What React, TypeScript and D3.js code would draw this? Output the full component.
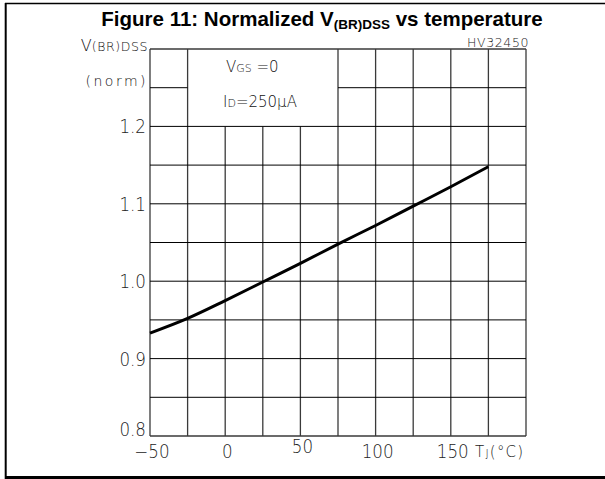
import React from "react";
import * as d3 from "d3";

const temps = [-50, -25, 0, 25, 50, 75, 100, 125, 150, 175];
const vbr = [0.933, 0.952, 0.975, 0.999, 1.023, 1.048, 1.072, 1.097, 1.122, 1.148];
const xTickVals = [-50, 0, 50, 100, 150];
const xTickLabels = ["−50", "0", "50", "100", "150"];
const yTickVals = [0.8, 0.9, 1.0, 1.1, 1.2];
const yTickLabels = ["0.8", "0.9", "1.0", "1.1", "1.2"];
const xGrid = [-50, -25, 0, 25, 50, 75, 100, 125, 150, 175, 200];
const yGrid = [0.8, 0.85, 0.9, 0.95, 1.0, 1.05, 1.1, 1.15, 1.2, 1.25, 1.3];

const W = 605;
const H = 479;
const L = 150, R = 526, T = 49, B = 436;
const FONT = "'Liberation Sans', Arial, sans-serif";
const THIN = "'DejaVu Sans', 'Liberation Sans', sans-serif";

export default function App() {
  const x = d3.scaleLinear().domain([-50, 200]).range([L, R]);
  const y = d3.scaleLinear().domain([0.8, 1.3]).range([B, T]);
  const line = d3
    .line<number>()
    .x((_, i) => x(temps[i]))
    .y((d) => y(d))
    .curve(d3.curveMonotoneX);

  const boxX0 = -25, boxX1 = 75, boxY0 = 1.2;
  const gridColor = "#3a3a3a";
  const isEdge = (v: number) => Math.abs(v - 0.8) < 1e-9 || Math.abs(v - 1.3) < 1e-9;

  return (
    <svg
      width={W}
      height={H}
      style={{ position: "absolute", left: 0, top: 0, display: "block", background: "#fff" }}
    >
      {/* outer frame */}
      <line x1={5} x2={605} y1={3.5} y2={3.5} stroke="#000" strokeWidth={1.6} />
      <line x1={5.7} x2={5.7} y1={3} y2={479} stroke="#000" strokeWidth={2} />
      <line x1={5} x2={605} y1={477.5} y2={477.5} stroke="#000" strokeWidth={3} />

      {/* title */}
      <text x={322} y={26} textAnchor="middle" fontFamily={FONT} fontWeight="bold" fontSize={20.5} fill="#000">
        Figure 11: Normalized V
        <tspan fontSize={13.5} dy={3}>(BR)DSS</tspan>
        <tspan dy={-3}> vs temperature</tspan>
      </text>
      <text x={529} y={47} textAnchor="end" fontFamily={THIN} fontSize={12.5} letterSpacing={0.6} fill="#222" fontWeight={300}>
        HV32450
      </text>

      {/* grid: vertical */}
      {xGrid.map((v) => {
        const inBoxCol = v > boxX0 && v < boxX1;
        return (
          <line
            key={"vx" + v}
            x1={x(v)}
            x2={x(v)}
            y1={B}
            y2={inBoxCol ? y(boxY0) : T}
            stroke={gridColor}
            strokeWidth={1.3}
          />
        );
      })}
      {/* grid: horizontal */}
      {yGrid.map((v) => {
        if (v > boxY0 + 1e-9 && v < 1.3 - 1e-9) {
          return (
            <g key={"hy" + v}>
              <line x1={x(-50)} x2={x(boxX0)} y1={y(v)} y2={y(v)} stroke="#000" strokeWidth={1} />
              <line x1={x(boxX1)} x2={x(200)} y1={y(v)} y2={y(v)} stroke="#000" strokeWidth={1} />
            </g>
          );
        }
        return (
          <line
            key={"hy" + v}
            x1={L}
            x2={R}
            y1={y(v)}
            y2={y(v)}
            stroke={isEdge(v) ? gridColor : "#000"}
            strokeWidth={isEdge(v) ? 1.3 : 1}
          />
        );
      })}

      {/* curve */}
      <path d={line(vbr) || ""} fill="none" stroke="#000" strokeWidth={3} />

      {/* annotation */}
      <text x={226} y={72} fontFamily={THIN} fontSize={15} fill="#111" fontWeight={300}>
        V<tspan fontSize={11}>GS</tspan> =0
      </text>
      <text x={223} y={107} fontFamily={THIN} fontSize={15} fill="#111" fontWeight={300}>
        I<tspan fontSize={11}>D</tspan>=250μA
      </text>

      {/* y axis title */}
      <text x={148} y={51} textAnchor="end" fontFamily={THIN} fontSize={16} fill="#111" fontWeight={300}>
        V<tspan fontSize={12.5} letterSpacing={0.6}>(BR)DSS</tspan>
      </text>
      <text x={148} y={86} textAnchor="end" fontFamily={THIN} fontSize={14} letterSpacing={2.5} fill="#111" fontWeight={300}>
        (norm)
      </text>

      {/* y ticks */}
      {yTickVals.map((v, i) => (
        <text
          key={"yt" + v}
          x={146}
          y={y(v) + (i === 0 ? 0 : 7)}
          textAnchor="end"
          fontFamily={THIN}
          fontSize={19}
          fill="#222"
          fontWeight={300}
          transform={`translate(${146 * 0.12},0) scale(0.88,1)`}
        >
          {yTickLabels[i]}
        </text>
      ))}

      {/* x ticks */}
      {xTickVals.map((v, i) => (
        <text
          key={"xt" + v}
          x={x(v) + 2}
          y={v === 50 ? 453 : 458}
          textAnchor="middle"
          fontFamily={THIN}
          fontSize={19}
          fill="#222"
          fontWeight={300}
          transform={`translate(${(x(v) + 2) * 0.12},0) scale(0.88,1)`}
        >
          {xTickLabels[i]}
        </text>
      ))}
      <text x={475} y={457} fontFamily={THIN} fontSize={15} letterSpacing={1.2} fill="#222" fontWeight={300}>
        T<tspan fontSize={11}>J</tspan>(°C)
      </text>
    </svg>
  );
}
